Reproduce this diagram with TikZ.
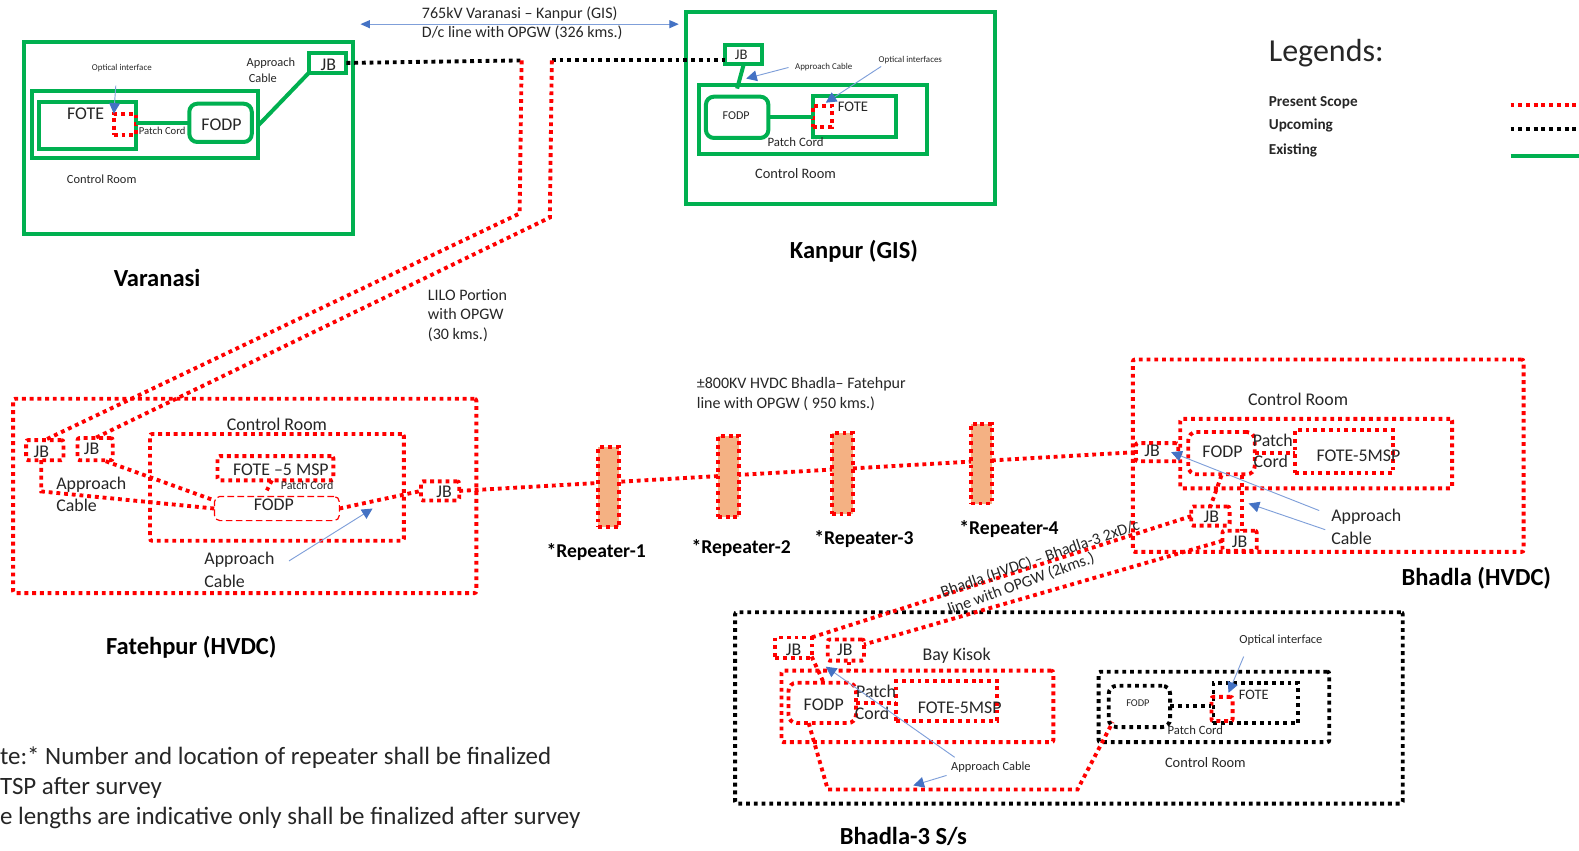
\documentclass[tikz,border=0pt]{standalone}
\usepackage{fontspec}
\setmainfont{Carlito}
\usetikzlibrary{fit,arrows.meta}
\definecolor{gr}{HTML}{00B050}
\definecolor{rd}{HTML}{FF0000}
\definecolor{bl}{HTML}{4472C4}
\definecolor{ln}{HTML}{7F9FD9}
\definecolor{org}{HTML}{F4B183}
\definecolor{tx}{HTML}{262626}
\tikzset{
 x=0.7553pt,y=-0.7553pt,
 gbox/.style={draw=gr,line width=3pt,inner sep=0pt,outer sep=0pt},
 gline/.style={draw=gr,line width=3pt},
 rdot/.style={draw=rd,line width=2.9pt,dash pattern=on 2.9pt off 2.9pt},
 kdot/.style={draw=black,line width=2.9pt,dash pattern=on 2.9pt off 2.9pt},
 rbox/.style={rdot,inner sep=0pt,outer sep=0pt},
 kbox/.style={kdot,inner sep=0pt,outer sep=0pt},
 rnd/.style={rounded corners=6pt},
 rns/.style={rounded corners=1.5pt},
 call/.style={draw=ln,line width=0.7pt,-{Triangle[length=8pt,width=8pt,fill=bl,color=bl]}},
 dbl/.style={draw=ln,line width=0.7pt,{Triangle[length=7pt,width=6pt,fill=bl,color=bl]}-{Triangle[length=7pt,width=6pt,fill=bl,color=bl]}},
 lab/.style={inner sep=0pt,outer sep=0pt,text=tx,font=\fontsize{13.4}{16}\selectfont},
 labl/.style={lab,anchor=west},
 sm/.style={lab,font=\fontsize{9.3}{11}\selectfont},
 smb/.style={lab,font=\fontsize{10.8}{13}\selectfont},
 xs/.style={lab,font=\fontsize{6.7}{8}\selectfont},
 md/.style={lab,font=\fontsize{12}{14}\selectfont},
 mdl/.style={md,anchor=west},
 ttl/.style={inner sep=0pt,outer sep=0pt,text=black,font=\bfseries\fontsize{18.4}{22}\selectfont},
 rept/.style={ttl,font=\bfseries\fontsize{14.7}{18}\selectfont},
 note/.style={inner sep=0pt,outer sep=0pt,anchor=west,text=tx,font=\fontsize{18.7}{22}\selectfont},
 rep/.style={rdot,fill=org,inner sep=0pt,outer sep=0pt},
 lgd/.style={note,font=\bfseries\fontsize{11.4}{14}\selectfont},
}
\begin{document}
\begin{tikzpicture}
\useasboundingbox (0,0) rectangle (1568,845);

% ---------- named bends ----------
\coordinate (vb1) at (518,60);
\coordinate (vb1a) at (516,212);
\coordinate (vb2) at (548,60);
\coordinate (vb2a) at (546,216);
\coordinate (arrL) at (358,24);
\coordinate (arrR) at (674,24);

% ---------- Varanasi ----------
\node[gbox,fit={(24,42)(351,232)}] (vOut) {};
\node[gbox,fit={(32,90)(256,157)}] (vCR) {};
\node[gbox,fit={(39,101)(135,148)}] (vFote) {};
\node[gbox,rnd,fit={(188,103)(250,141)}] (vFodp) {};
\node[gbox,fill=white,fit={(307,53)(344,72)}] (vJB) {};
\node[rbox,fit={(113,113)(135,134)}] (vOI) {};
\node[lab] (vtJB) at (326,64) {JB};
\node[lab] (vtFote) at (85,113) {FOTE};
\node[lab] (vtFodp) at (220,124) {FODP};
\node[xs,font=\fontsize{8}{9}\selectfont] (vtPC) at (161,130) {Patch Cord};
\node[sm] (vtCR) at (101,178) {Control Room};
\node[xs] (vtOI) at (121,68) {Optical interface};
\node[sm] (vtA1) at (269,63) {Approach};
\node[sm] (vtA2) at (261,78) {Cable};
\node[ttl] (vtT) at (156,276) {Varanasi};
\draw[gline] (vFote.east|-vFodp.west) -- (vFodp.west);
\coordinate (vCRe) at (257,124);
\draw[gline] (vCRe) -- (vJB.south west);
\coordinate (vOIs) at (115,85);
\draw[call] (vOIs) -- (vOI.north west);

% ---------- Kanpur ----------
\node[gbox,fit={(681,12)(988,203)}] (kOut) {};
\node[gbox,fit={(694,84)(921,153)}] (kCR) {};
\node[gbox,rnd,fit={(701,96)(763,137)}] (kFodp) {};
\node[gbox,fit={(807,95)(890,136)}] (kFote) {};
\node[gbox,fit={(720,45)(757,64)}] (kJB) {};
\node[rbox,fit={(807,105)(826,126)}] (kOI) {};
\node[lab,font=\fontsize{11}{13}\selectfont] (ktJB) at (736,54) {JB};
\node[lab,font=\fontsize{11}{13}\selectfont] (ktFote) at (847,106) {FOTE};
\node[lab,font=\fontsize{9}{11}\selectfont] (ktFodp) at (731,115) {FODP};
\node[sm,font=\fontsize{9.6}{11}\selectfont] (ktPC) at (790,141) {Patch Cord};
\node[smb] (ktCR) at (790,172) {Control Room};
\node[xs] (ktA) at (818,67) {Approach Cable};
\node[xs] (ktO) at (904,60) {Optical interfaces};
\node[ttl] (ktT) at (848,250) {Kanpur (GIS)};
\draw[gline] (kFodp.east) -- (kOI.west|-kFodp.east);
\coordinate (kCRt) at (732,88);
\draw[gline] (kJB.south) -- (kCRt);
\coordinate (kAs) at (783,67);
\coordinate (kAe) at (741,78);
\draw[call] (kAs) -- (kAe);
\coordinate (kOs) at (875,66);
\coordinate (kOe) at (820,102);
\draw[call] (kOs) -- (kOe);

% ---------- Fatehpur ----------
\node[rbox,rns,fit={(13,396)(473,589)}] (fOut) {};
\node[rbox,rns,fit={(149,431)(401,537)}] (fCR) {};
\node[rbox,rns,fit={(216,453)(331,477)}] (fFote) {};
\node[draw=rd,line width=0.9pt,dash pattern=on 5pt off 2.5pt,rounded corners=4pt,inner sep=0pt,outer sep=0pt,fit={(213,493)(337,517)}] (fFodp) {};
\node[rbox,rns,fit={(26,437)(63,457)}] (fJ1) {};
\node[rbox,rns,fit={(77,435)(112,457)}] (fJ2) {};
\node[rbox,rns,fit={(418,478)(456,497)}] (fJ3) {};
\node[lab] (ftJ1) at (41,449) {JB};
\node[lab] (ftJ2) at (91,446) {JB};
\node[lab] (ftJ3) at (441,488) {JB};
\node[lab] (ftCR) at (275,421) {Control Room};
\node[lab] (ftFote) at (279,466) {FOTE –5 MSP};
\node[lab] (ftFodp) at (272,501) {FODP};
\node[xs,font=\fontsize{9}{10}\selectfont] (ftPC) at (305,482) {Patch Cord};
\node[labl] (ftA1) at (56,481) {Approach};
\node[labl] (ftA2) at (56,502) {Cable};
\node[labl] (ftA3) at (203,556) {Approach};
\node[labl] (ftA4) at (203,577) {Cable};
\node[ttl] (ftT) at (190,643) {Fatehpur (HVDC)};
\coordinate (fBend) at (41,488);
\coordinate (fIn1) at (213,505);
\coordinate (fIn2) at (213,497);
\coordinate (fJ2s) at (105,458);
\draw[rdot] (fJ1.south-|fBend) -- (fBend) -- (fIn1);
\draw[rdot] (fJ2s) -- (fIn2);
\draw[rdot] (fFodp.east) -- (fJ3.west);
\coordinate (fPC1) at (270,477);
\coordinate (fPC2) at (265,487);
\draw[rdot] (fPC1) -- (fPC2);
\coordinate (fAs) at (287,557);
\coordinate (fAe) at (370,505);
\draw[call] (fAs) -- (fAe);

% ---------- LILO and line ----------
\draw[kdot] (vJB.east) -- (vb1);
\draw[kdot] (vb2) -- (kJB.west|-vb2);
\draw[rdot] (vb1) -- (vb1a) -- (fJ1.north);
\draw[rdot] (vb2) -- (vb2a) -- (fJ2.north);
\draw[dbl] (arrL) -- (arrR);
\node[md,anchor=west] (tTop1) at (419,14) {765kV Varanasi – Kanpur (GIS)};
\node[md,anchor=west] (tTop2) at (419,33) {D/c line with OPGW (326 kms.)};
\node[mdl] (tL1) at (425,293) {LILO Portion};
\node[mdl] (tL2) at (425,312) {with OPGW};
\node[mdl] (tL3) at (425,332) {(30 kms.)};

% ---------- Bhadla ----------
\node[rbox,rns,fit={(1125,357)(1513,548)}] (bOut) {};
\node[rbox,rns,fit={(1172,416)(1442,485)}] (bCR) {};
\node[rbox,rnd,fit={(1180,429)(1246,471)}] (bFodp) {};
\node[rbox,fit={(1286,427)(1383,470)}] (bFote) {};
\node[rbox,rns,fit={(1128,440)(1170,458)}] (bJ1) {};
\node[rbox,rns,fit={(1183,503)(1221,522)}] (bJ2) {};
\node[rbox,rns,fit={(1214,527)(1248,547)}] (bJ3) {};
\node[lab] (btJ1) at (1144,448) {JB};
\node[lab] (btJ2) at (1203,513) {JB};
\node[lab] (btJ3) at (1231,538) {JB};
\node[lab] (btCR) at (1289,397) {Control Room};
\node[lab] (btFodp) at (1214,449) {FODP};
\node[lab] (btP) at (1264,437) {Patch};
\node[lab] (btC) at (1262,458) {Cord};
\node[lab] (btFote) at (1349,453) {FOTE-5MSP};
\node[labl] (btA1) at (1322,513) {Approach};
\node[labl] (btA2) at (1322,535) {Cable};
\node[ttl] (btT) at (1466,574) {Bhadla (HVDC)};
\draw[rdot] (bFodp.east) -- (bFote.west|-bFodp.east);
\coordinate (bF1) at (1213,472);
\coordinate (bF2) at (1233,472);
\draw[rdot] (bF1) -- (bJ2.north);
\draw[rdot] (bF2) -- (bJ3.north-|bF2);
\coordinate (bA1) at (1310,507);
\coordinate (bA1e) at (1163,449);
\coordinate (bA2) at (1316,526);
\coordinate (bA2e) at (1240,500);
\draw[call] (bA1) -- (bA1e);
\draw[call] (bA2) -- (bA2e);

% ---------- main HVDC line and repeaters ----------
\draw[rdot] (fJ3.east) -- (bJ1.west);
\node[rep,fit={(594,444)(615,523)}] (r1) {};
\node[rep,fit={(713,433)(734,513)}] (r2) {};
\node[rep,fit={(826,430)(847,510)}] (r3) {};
\node[rep,fit={(964,421)(985,500)}] (r4) {};
\node[rept] (rt1) at (592,548) {*Repeater-1};
\node[rept] (rt2) at (736,544) {*Repeater-2};
\node[rept] (rt3) at (858,535) {*Repeater-3};
\node[rept] (rt4) at (1002,525) {*Repeater-4};
\node[mdl] (tH1) at (692,382) {±800KV HVDC Bhadla– Fatehpur};
\node[mdl] (tH2) at (692,401) {line with OPGW ( 950 kms.)};

% ---------- Bhadla-3 ----------
\node[kbox,rns,fit={(730,608)(1393,798)}] (cOut) {};
\node[rbox,rns,fit={(776,666)(1046,737)}] (cBK) {};
\node[rbox,rnd,fit={(783,678)(850,718)}] (cFodp) {};
\node[rbox,fit={(890,676)(990,716)}] (cFote) {};
\node[rbox,fit={(770,633)(806,653)}] (cJ1) {};
\node[rbox,rns,fit={(822,635)(858,656)}] (cJ2) {};
\node[kbox,rns,fit={(1091,667)(1320,737)}] (dCR) {};
\node[kbox,rnd,fit={(1101,681)(1162,722)}] (dFodp) {};
\node[kbox,fit={(1205,678)(1289,718)}] (dFote) {};
\node[rbox,rns,fit={(1203,692)(1224,716)}] (dOI) {};
\node[lab] (ctJ1) at (788,645) {JB};
\node[lab] (ctJ2) at (839,645) {JB};
\node[lab] (ctBK) at (950,651) {Bay Kisok};
\node[lab] (ctFodp) at (818,700) {FODP};
\node[lab] (ctP) at (870,687) {Patch};
\node[lab] (ctC) at (866,708) {Cord};
\node[lab] (ctFote) at (953,703) {FOTE-5MSP};
\node[sm] (ctA) at (984,762) {Approach Cable};
\node[ttl] (ctT) at (897,831) {Bhadla-3 S/s};
\node[sm,font=\fontsize{7.8}{9}\selectfont] (dtFodp) at (1130,698) {FODP};
\node[smb] (dtFote) at (1245,690) {FOTE};
\node[sm,font=\fontsize{9.5}{11}\selectfont] (dtPC) at (1187,725) {Patch Cord};
\node[smb] (dtCR) at (1197,757) {Control Room};
\node[sm] (dtO) at (1272,636) {Optical interface};
\draw[rdot] (cFodp.east) -- (cFote.west|-cFodp.east);
\draw[kdot] (dFodp.east) -- (dOI.west|-dFodp.east);
\coordinate (cJ1s) at (806,652);
\coordinate (cFt) at (818,678);
\draw[rdot] (cJ1s) -- (cFt);
\coordinate (cJ2s) at (843,657);
\coordinate (cBKt) at (843,666);
\draw[rdot] (cJ2s) -- (cBKt);
\coordinate (cF1) at (803,718);
\coordinate (cB1) at (822,784);
\coordinate (cB2) at (1070,784);
\coordinate (dF1) at (1105,717);
\draw[rdot] (cF1) -- (cB1) -- (cB2) -- (dF1);
\coordinate (cA1) at (948,752);
\coordinate (cA1e) at (820,662);
\coordinate (cA2) at (940,770);
\coordinate (cA2e) at (907,780);
\draw[call] (cA1) -- (cA1e);
\draw[call] (cA2) -- (cA2e);
\coordinate (dAs) at (1235,652);
\coordinate (dAe) at (1220,688);
\draw[call] (dAs) -- (dAe);

% ---------- Bhadla to Bhadla-3 ----------
\coordinate (cJ2e) at (858,640);
\draw[rdot] (bJ2.west) -- (cJ1.north east);
\draw[rdot] (bJ3.west) -- (cJ2e);
\node[md,rotate=19] (tB1) at (1033,555) {Bhadla (HVDC) – Bhadla-3 2xD/c};
\node[md,rotate=20] (tB2) at (1014,580) {line with OPGW (2kms.)};

% ---------- Legend ----------
\node[note,font=\fontsize{24}{28}\selectfont] (lgT) at (1260,53) {Legends:};
\node[lgd] (lg1) at (1260,102) {Present Scope};
\node[lgd] (lg2) at (1260,125) {Upcoming};
\node[lgd] (lg3) at (1260,149) {Existing};
\coordinate (l1a) at (1500,104); \coordinate (l1b) at (1568,104);
\coordinate (l2a) at (1500,128); \coordinate (l2b) at (1568,128);
\coordinate (l3a) at (1500,155); \coordinate (l3b) at (1568,155);
\draw[rdot] (l1a) -- (l1b);
\draw[kdot] (l2a) -- (l2b);
\draw[gline] (l3a) -- (l3b);

% ---------- Notes ----------
\node[note] (n1) at (0,752) {te:* Number and location of repeater shall be finalized};
\node[note] (n2) at (0,782) {TSP after survey};
\node[note] (n3) at (0,812) {e lengths are indicative only shall be finalized after survey};
\end{tikzpicture}
\end{document}
